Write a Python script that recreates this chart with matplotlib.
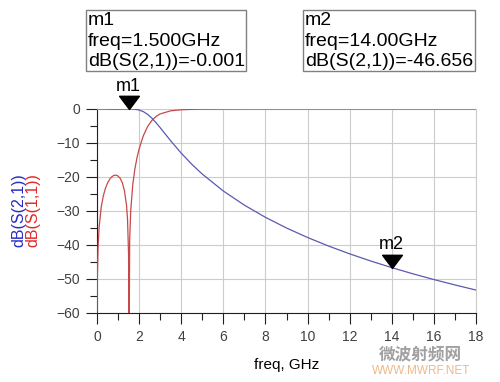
import matplotlib
matplotlib.use('Agg')
import matplotlib.pyplot as plt
from matplotlib.path import Path
from matplotlib.ticker import MultipleLocator

plt.rcParams['font.family'] = ['Liberation Sans', 'DejaVu Sans']

# frequency points (GHz) and the two traces
freq = [0.0, 0.01, 0.02, 0.05, 0.1, 0.2, 0.3, 0.4, 0.5, 0.6, 0.7, 0.8, 0.9,
        1.0, 1.1, 1.2, 1.3, 1.4, 1.45, 1.5, 1.52, 1.55, 1.6, 1.7, 1.8, 1.9,
        2.0, 2.2, 2.4, 2.6, 2.8, 3.0, 3.5, 4.0, 4.5, 5.0, 6.0, 7.0, 8.0,
        9.0, 10.0, 11.0, 12.0, 13.0, 14.0, 15.0, 16.0, 17.0, 18.0]
s21_db = [0.0, 0.0, 0.0, 0.0, 0.0, -0.006, -0.012, -0.02, -0.029, -0.037,
          -0.044, -0.049, -0.05, -0.047, -0.04, -0.03, -0.018, -0.007,
          -0.002, -0.001, 0.0, -0.001, -0.004, -0.027, -0.076, -0.164,
          -0.302, -0.774, -1.559, -2.656, -3.997, -5.486, -9.356, -12.985,
          -16.237, -19.14, -24.12, -28.28, -31.86, -35.0, -37.79, -40.31,
          -42.6, -44.71, -46.656, -48.47, -50.16, -51.75, -53.25]
s11_db = [-80.0, -54.74, -48.72, -40.77, -34.77, -28.87, -25.54, -23.34,
          -21.78, -20.68, -19.95, -19.54, -19.45, -19.71, -20.39, -21.66,
          -23.9, -28.2, -32.44, -42.91, -80.0, -38.88, -29.97, -22.16,
          -17.61, -14.32, -11.73, -7.87, -5.21, -3.397, -2.207, -1.443,
          -0.535, -0.224, -0.105, -0.053, -0.017, -0.006, -0.003, -0.001,
          -0.001, 0.0, 0.0, 0.0, 0.0, 0.0, 0.0, 0.0, 0.0]

markers = [('m1', 1.5, -0.001), ('m2', 14.0, -46.656)]
x_ticks = [0, 2, 4, 6, 8, 10, 12, 14, 16, 18]
y_ticks = [0, -10, -20, -30, -40, -50, -60]

W, H = 500, 382


def fx(x):
    return x / W


def fy(y):
    return 1 - y / H


fig = plt.figure(figsize=(W / 100, H / 100), dpi=100)
fig.patch.set_facecolor('white')
ax = fig.add_axes([fx(97), fy(313), fx(476) - fx(97), fy(109) - fy(313)])

ax.plot(freq, s11_db, color='#c84848', lw=0.9, zorder=3)
ax.plot(freq, s21_db, color='#5a5ab0', lw=0.9, zorder=4)

ax.set_xlim(0, 18)
ax.set_ylim(-60, 0)
ax.set_xticks(x_ticks)
ax.set_yticks(y_ticks)
ax.xaxis.set_minor_locator(MultipleLocator(1))
ax.yaxis.set_minor_locator(MultipleLocator(5))
ax.grid(True, which='major', color='#cccccc', lw=0.8)
ax.set_axisbelow(True)
ax.tick_params(which='major', direction='out', length=8, width=0.8,
               color='#202020', labelsize=10, labelcolor='#404040', pad=4)
ax.tick_params(which='minor', direction='out', length=5, width=0.8,
               color='#202020')
for side in ['top', 'right']:
    ax.spines[side].set_color('#cccccc')
    ax.spines[side].set_linewidth(0.8)
for side in ['left', 'bottom']:
    ax.spines[side].set_color('#202020')
    ax.spines[side].set_linewidth(0.8)

ax.set_xlabel('freq, GHz', fontsize=11, labelpad=10)

# marker triangles, tip on the trace
tri = Path([(0, 0), (-0.75, 1), (0.75, 1), (0, 0)],
           [Path.MOVETO, Path.LINETO, Path.LINETO, Path.CLOSEPOLY])
for name, f, v in markers:
    ax.plot([f], [v], marker=tri, ms=19, color='black', clip_on=False,
            zorder=6)
    ax.annotate(name, xy=(f, v), xytext=(0, 23), textcoords='offset pixels',
                ha='center', va='center', fontsize=13,
                annotation_clip=False)

# y axis label in two colours
fig.text(fx(19), fy(210), 'dB(S(2,1))', rotation=90, color='#2828c8',
         fontsize=11.5, ha='center', va='center')
fig.text(fx(33), fy(210), 'dB(S(1,1))', rotation=90, color='#e02828',
         fontsize=11.5, ha='center', va='center')

# marker readout boxes
boxes = [(86, 246, ['m1', 'freq=1.500GHz', 'dB(S(2,1))=-0.001']),
         (303, 475, ['m2', 'freq=14.00GHz', 'dB(S(2,1))=-46.656'])]
for x0, x1, lines in boxes:
    fig.patches.append(plt.Rectangle((fx(x0), fy(71)), fx(x1) - fx(x0),
                                     fy(10) - fy(71), transform=fig.transFigure,
                                     fill=False, ec='#808080', lw=1))
    for i, t in enumerate(lines):
        fig.text(fx(x0 + 2), fy(25 + 20.5 * i), t, fontsize=14,
                 ha='left', va='baseline')

# watermark
fig.text(fx(420), fy(354), '微波射频网', fontsize=12, color='#a0a0a0',
         ha='center', va='center', fontweight='bold',
         family=['Noto Sans CJK SC', 'DejaVu Sans'])
fig.text(fx(421), fy(371), 'WWW.MWRF.NET', fontsize=8.5, color='#f0b888',
         ha='center', va='center')

fig.savefig('out.png', dpi=100, facecolor='white')
